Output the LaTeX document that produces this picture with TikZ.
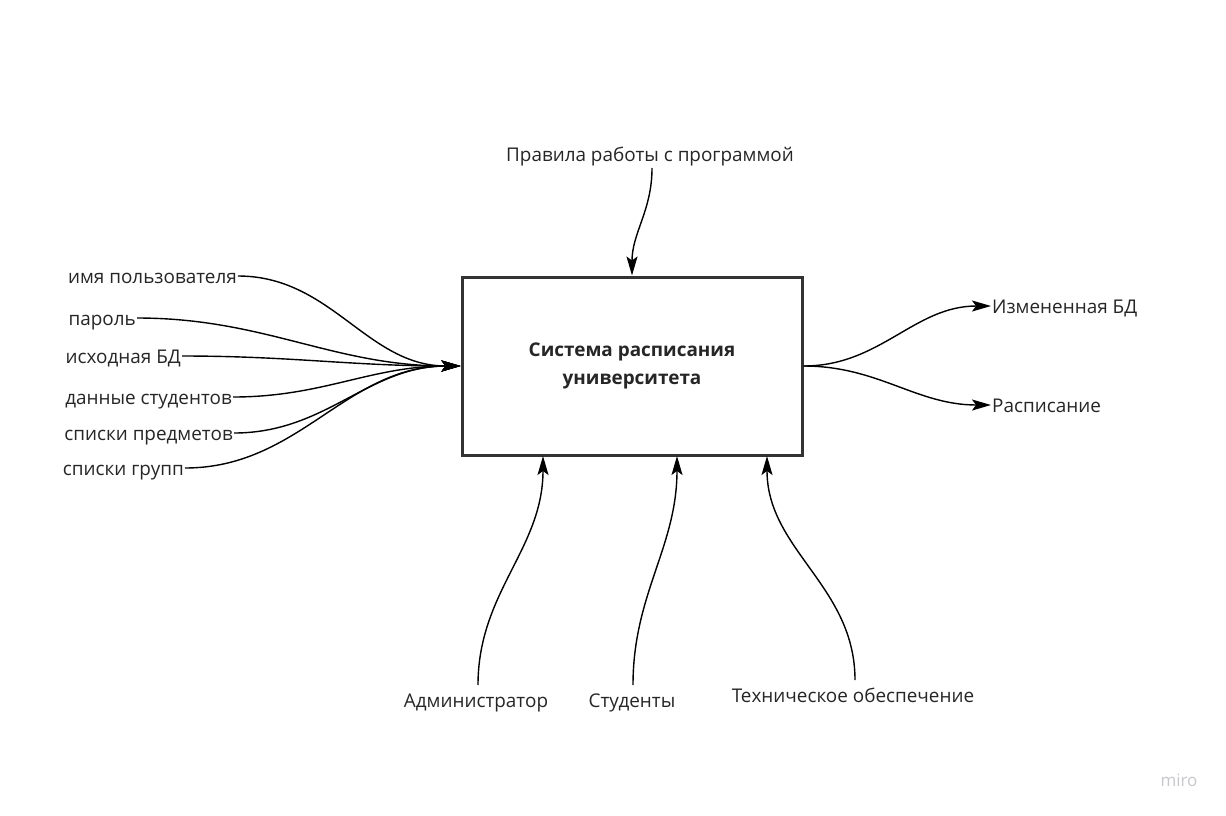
\documentclass[tikz,border=0pt]{standalone}
\usepackage{fontspec}
\setmainfont{Open Sans}
\usetikzlibrary{arrows.meta,positioning}
\definecolor{boxline}{HTML}{333333}
\definecolor{wmark}{HTML}{C8C8CC}
\tikzset{
	lbl/.style={inner sep=1pt, text height=16pt, text depth=2pt,
		font=\fontsize{18.9}{22}\selectfont, text=black!85},
	flow/.style={line width=1.4pt, black, -{Stealth[length=19pt,width=11pt,inset=4pt]}},
	wire/.style={line width=1.4pt, black}
}

\begin{document}
\begin{tikzpicture}[x=1pt, y=-1pt]
			\useasboundingbox[fill=white] (0,0) rectangle (1226,815);

			% main block
			\node[draw=boxline, line width=3pt, minimum width=340pt, minimum height=178pt,
				align=center, font=\fontsize{18.9}{28}\selectfont\bfseries, text=black!85]
				(sys) at (632,366) {\rule{0pt}{4pt}Система расписания\\университета};

			% inputs
			\node[lbl, anchor=east] (user)    at (238,276) {имя пользователя};
			\node[lbl, anchor=east] (pass)    at (137,318) {пароль};
			\node[lbl, anchor=east] (srcdb)   at (182,356) {исходная БД};
			\node[lbl, anchor=east] (stud)    at (233,397) {данные студентов};
			\node[lbl, anchor=east] (subj)    at (234,433) {списки предметов};
			\node[lbl, anchor=east] (groups)  at (185,468) {списки групп};

			\foreach \src in {user,pass,srcdb,stud,subj,groups}
				\draw[flow] (\src.east) to[out=0, in=180] (sys.west);

			% outputs
			\node[lbl, anchor=west] (newdb)  at (991,306) {Измененная БД};
			\node[lbl, anchor=west] (sched)  at (991,405) {Расписание};
			\draw[flow] (sys.east) to[out=0, in=180] (newdb.west);
			\draw[flow] (sys.east) to[out=0, in=180] (sched.west);

			% control
			\node[lbl] (rules) at (650,154) {Правила работы с программой};
			\draw[flow] (652,168) to[out=-90, in=90] (sys.north);

			% mechanisms
			\node[lbl] (admin) at (476,700) {Администратор};
			\node[lbl] (pupil) at (632,700) {Студенты};
			\node[lbl] (tech)  at (853,695) {Техническое обеспечение};
			\coordinate (admin-in) at (543,456);
			\coordinate (pupil-in) at (677,456);
			\coordinate (tech-in)  at (767,456);
			\draw[flow] (478,685) to[out=90, in=-90] (admin-in);
			\draw[flow] (633,685) to[out=90, in=-90] (pupil-in);
			\draw[flow] (855,680) to[out=90, in=-90] (tech-in);

			\node[font=\fontsize{17}{19}\selectfont, text=wmark] (miro) at (1179,780) {miro};
		\end{tikzpicture}
\end{document}
